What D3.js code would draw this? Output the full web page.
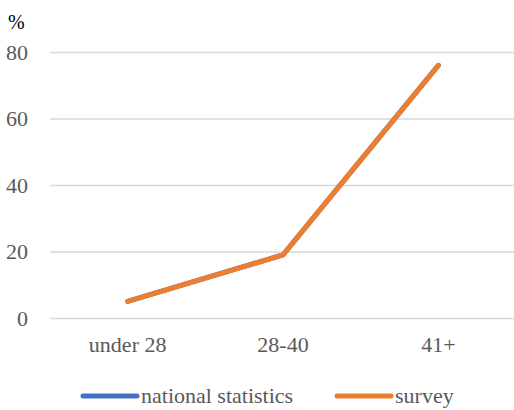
<!DOCTYPE html>
<html>
<head>
<meta charset="utf-8">
<script src="https://cdn.jsdelivr.net/npm/d3@7"></script>
</head>
<body style="margin:0">
<svg id="chart" width="514" height="410"></svg>
<script>
// Age groups and share (%) per source
const categories = ["under 28", "28-40", "41+"];
const nationalStatistics = [5, 19, 76];
const survey = [5, 19, 76];
const yTicks = [0, 20, 40, 60, 80];
const seriesNames = ["national statistics", "survey"];
const seriesColors = ["#4472C4", "#ED7D31"];

const FONT = "'Liberation Serif', 'Times New Roman', monospace";

const svg = d3.select("#chart");
const margin = { left: 50, right: 0, top: 52, bottom: 92 };
const width = 514, height = 410;

const x = d3.scaleBand()
  .domain(categories)
  .range([margin.left, width - margin.right + 2]);

const y = d3.scaleLinear()
  .domain([0, 80])
  .range([height - margin.bottom, margin.top]);

// horizontal gridlines with value labels
const gy = svg.append("g")
  .attr("transform", `translate(${margin.left},0)`)
  .call(d3.axisLeft(y)
    .tickValues(yTicks)
    .tickSize(-(width - margin.left))
    .tickPadding(22)
    .tickFormat(d3.format("d")));
gy.select(".domain").remove();
gy.selectAll(".tick line").attr("stroke", "#d9d9d9").attr("stroke-width", 1.3);
gy.selectAll(".tick text")
  .attr("fill", "#595959")
  .style("font-family", FONT)
  .style("font-size", "22px")
  .attr("dy", "0.34em");

// category labels
const gx = svg.append("g")
  .attr("transform", `translate(0,${height - margin.bottom})`)
  .call(d3.axisBottom(x).tickSize(0).tickPadding(18));
gx.select(".domain").remove();
gx.selectAll(".tick text")
  .attr("fill", "#595959")
  .style("font-family", FONT)
  .style("font-size", "22px");

// unit label
svg.append("text")
  .attr("x", 8)
  .attr("y", 29)
  .attr("fill", "#000")
  .style("font-family", FONT)
  .style("font-size", "20px")
  .text("%");

// series lines
const line = d3.line()
  .x((d, i) => x(categories[i]) + x.bandwidth() / 2)
  .y(d => y(d));

[nationalStatistics, survey].forEach((vals, i) => {
  svg.append("path")
    .datum(vals)
    .attr("fill", "none")
    .attr("stroke", seriesColors[i])
    .attr("stroke-width", 5)
    .attr("stroke-linecap", "round")
    .attr("stroke-linejoin", "round")
    .attr("d", line);
});

// legend
const legendItems = [
  { name: seriesNames[0], color: seriesColors[0], x: 83 },
  { name: seriesNames[1], color: seriesColors[1], x: 337 }
];
const lg = svg.append("g");
legendItems.forEach(it => {
  lg.append("line")
    .attr("x1", it.x).attr("x2", it.x + 54)
    .attr("y1", 396).attr("y2", 396)
    .attr("stroke", it.color)
    .attr("stroke-width", 5)
    .attr("stroke-linecap", "round");
  lg.append("text")
    .attr("x", it.x + 58)
    .attr("y", 403)
    .attr("fill", "#595959")
    .style("font-family", FONT)
    .style("font-size", "22px")
    .text(it.name);
});
</script>
</body>
</html>
